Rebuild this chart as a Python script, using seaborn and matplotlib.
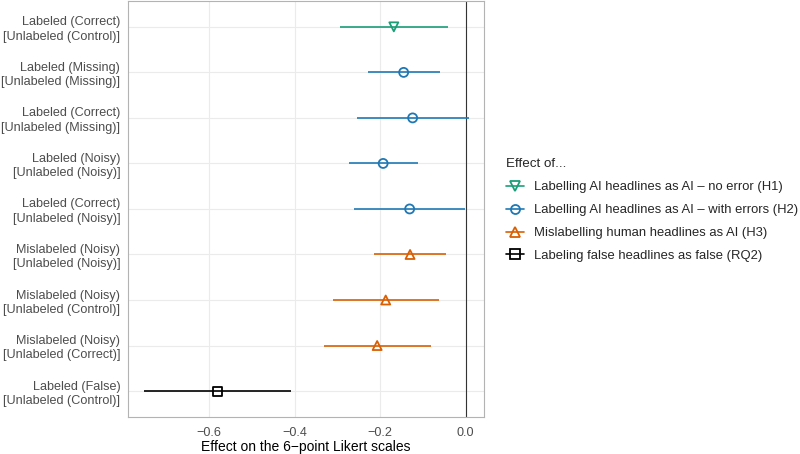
import numpy as np
import pandas as pd
import matplotlib
matplotlib.use("Agg")
import matplotlib.pyplot as plt
from matplotlib.lines import Line2D
import seaborn as sns

# ---- data ----
row_labels = [
    "Labeled (Correct)\n[Unlabeled (Control)]",
    "Labeled (Missing)\n[Unlabeled (Missing)]",
    "Labeled (Correct)\n[Unlabeled (Missing)]",
    "Labeled (Noisy)\n[Unlabeled (Noisy)]",
    "Labeled (Correct)\n[Unlabeled (Noisy)]",
    "Mislabeled (Noisy)\n[Unlabeled (Noisy)]",
    "Mislabeled (Noisy)\n[Unlabeled (Control)]",
    "Mislabeled (Noisy)\n[Unlabeled (Correct)]",
    "Labeled (False)\n[Unlabeled (Control)]",
]
estimates = [-0.168, -0.145, -0.124, -0.193, -0.131, -0.130, -0.187, -0.207, -0.581]
ci_low    = [-0.294, -0.228, -0.254, -0.273, -0.261, -0.214, -0.310, -0.332, -0.753]
ci_high   = [-0.041, -0.061,  0.007, -0.112, -0.002, -0.047, -0.062, -0.082, -0.409]
groups = ["H1", "H2", "H2", "H2", "H2", "H3", "H3", "H3", "RQ2"]

group_names = ["H1", "H2", "H3", "RQ2"]
legend_labels = [
    "Labelling AI headlines as AI \u2013 no error (H1)",
    "Labelling AI headlines as AI \u2013 with errors (H2)",
    "Mislabelling human headlines as AI (H3)",
    "Labeling false headlines as false (RQ2)",
]
x_ticks = [-0.6, -0.4, -0.2, 0.0]
x_tick_labels = ["\u22120.6", "\u22120.4", "\u22120.2", "0.0"]

# ---- styles ----
colors = {"H1": "#1B9E77", "H2": "#1F78B4", "H3": "#D95F02", "RQ2": "#000000"}
markers = {"H1": "v", "H2": "o", "H3": "^", "RQ2": "s"}

sns.set_theme(style="whitegrid")
plt.rcParams["font.family"] = ["Liberation Sans", "DejaVu Sans"]

df = pd.DataFrame({
    "label": row_labels,
    "row": np.arange(len(row_labels)),
    "est": estimates,
    "lo": ci_low,
    "hi": ci_high,
    "group": groups,
})

fig = plt.figure(figsize=(8, 4.54), dpi=100)
ax = fig.add_axes([0.16, 0.0815, 0.445, 0.9165])

# CI lines
for g in group_names:
    sub = df[df.group == g]
    ax.hlines(sub["row"], sub["lo"], sub["hi"], color=colors[g], lw=1.2, zorder=2)

sns.scatterplot(data=df, x="est", y="row", hue="group", style="group",
                hue_order=group_names, style_order=group_names,
                palette=colors, markers=markers, s=42, linewidth=1.3,
                legend=False, ax=ax, zorder=3)
for coll in ax.collections:
    if coll.__class__.__name__ == "PathCollection":
        fc = coll.get_facecolors()
        coll.set_edgecolors(fc)
        coll.set_facecolors("none")

ax.axvline(0, color="#333333", lw=0.8, zorder=1)

ax.set_xlim(-0.79, 0.043)
ax.set_ylim(len(row_labels) - 1 + 0.57, -0.57)
ax.set_yticks(df["row"])
ax.set_yticklabels(row_labels, fontsize=9.1, color="#4D4D4D", linespacing=1.25)
ax.set_xticks(x_ticks)
ax.set_xticklabels(x_tick_labels, fontsize=9.1, color="#4D4D4D")
ax.set_xlabel("Effect on the 6\u2212point Likert scales", fontsize=10, color="black", labelpad=0.8)
ax.set_ylabel("")
ax.tick_params(axis="y", length=0, pad=5.5)
ax.tick_params(axis="x", length=0, pad=7)
ax.grid(True, color="#EBEBEB", lw=0.8)
ax.set_axisbelow(True)
for sp in ax.spines.values():
    sp.set_color("#B3B3B3")
    sp.set_linewidth(0.8)

handles = [Line2D([0], [0], color=colors[g], marker=markers[g], markerfacecolor="none",
                  markeredgecolor=colors[g], markersize=6.5, markeredgewidth=1.3, lw=1.2)
           for g in group_names]
leg = fig.legend(handles, legend_labels, loc="upper left", bbox_to_anchor=(0.632, 0.651),
                 frameon=False, title="Effect of...", fontsize=9.35, title_fontsize=9.6,
                 handlelength=1.45, handletextpad=0.7, labelspacing=0.83,
                 borderpad=0, borderaxespad=0)
leg._legend_box.align = "left"

fig.savefig("out.png", dpi=100)
